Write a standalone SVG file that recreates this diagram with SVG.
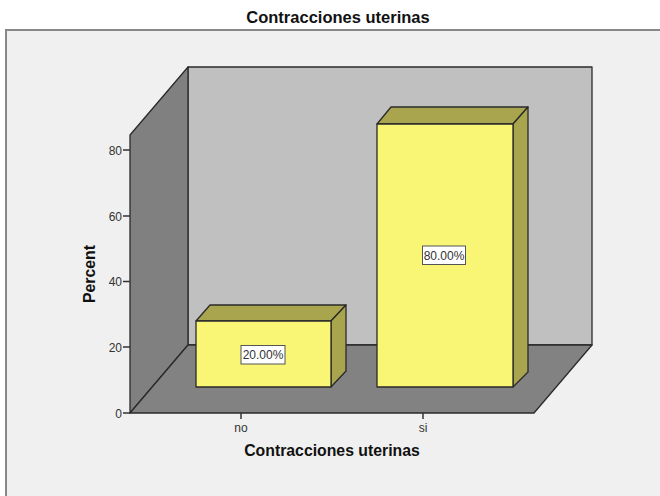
<svg xmlns="http://www.w3.org/2000/svg" width="660" height="496" viewBox="0 0 660 496">
<style>
.edge{stroke:#2a2a2a;stroke-width:1.3;stroke-linejoin:round}
.front{fill:#faf675}
.dark{fill:#a8a54e}
.tick{stroke:#333;stroke-width:1.5}
.tl{font-family:"Liberation Sans",Arial,sans-serif;font-size:12px;fill:#333}
.ttl{font-family:"Liberation Sans",Arial,sans-serif;font-weight:bold;fill:#111}
.lbl{fill:#fff;stroke:#555;stroke-width:1}
</style>
<rect x="0" y="0" width="660" height="496" fill="#ffffff"/>
<rect x="6" y="30" width="660" height="480" fill="#f0f0f0" stroke="#888" stroke-width="2"/>
<text class="ttl" x="338" y="23" font-size="16.5" text-anchor="middle">Contracciones uterinas</text>
<g id="back-wall"><rect x="188" y="67" width="404" height="278" fill="#c0c0c0" class="edge"/></g>
<g id="left-wall"><polygon points="130,135 188,67 188,345 130,413" fill="#808080" class="edge"/></g>
<g id="floor"><polygon points="130,413 188,345 592,345 534,413" fill="#828282" class="edge"/></g>
<g id="axes">
<line class="tick" x1="123" y1="413" x2="130" y2="413"/>
<line class="tick" x1="123" y1="347" x2="130" y2="347"/>
<line class="tick" x1="123" y1="281.5" x2="130" y2="281.5"/>
<line class="tick" x1="123" y1="216" x2="130" y2="216"/>
<line class="tick" x1="123" y1="150" x2="130" y2="150"/>
<text class="tl" x="122" y="417.5" text-anchor="end">0</text>
<text class="tl" x="122" y="351.5" text-anchor="end">20</text>
<text class="tl" x="122" y="286" text-anchor="end">40</text>
<text class="tl" x="122" y="220.5" text-anchor="end">60</text>
<text class="tl" x="122" y="154.5" text-anchor="end">80</text>
<line class="tick" x1="241" y1="413" x2="241" y2="419"/>
<line class="tick" x1="423" y1="413" x2="423" y2="419"/>
<text class="tl" x="241" y="432" text-anchor="middle">no</text>
<text class="tl" x="423" y="432" text-anchor="middle">si</text>
<text class="ttl" x="332" y="456" font-size="15.8" text-anchor="middle">Contracciones uterinas</text>
<text class="ttl" x="95" y="274" font-size="15.8" text-anchor="middle" transform="rotate(-90 95 274)">Percent</text>
</g>
<g id="bar-no">
<polygon class="dark edge" points="196,321 210,305 346,305 331,321"/>
<polygon class="dark edge" points="331,321 346,305 346,371 331,387"/>
<rect class="front edge" x="196" y="321" width="135" height="66"/>
<rect class="lbl" x="241" y="345.5" width="44" height="18.5"/>
<text class="tl" x="263" y="359" text-anchor="middle" font-size="11.5" fill="#222">20.00%</text>
</g>
<g id="bar-si">
<polygon class="dark edge" points="377,124 391,107 528,107 513,124"/>
<polygon class="dark edge" points="513,124 528,107 528,372 513,387"/>
<rect class="front edge" x="377" y="124" width="136" height="263"/>
<rect class="lbl" x="422.5" y="246" width="43" height="18.5"/>
<text class="tl" x="444" y="259.5" text-anchor="middle" font-size="11.5" fill="#222">80.00%</text>
</g>
<g id="connectors"></g>
</svg>
